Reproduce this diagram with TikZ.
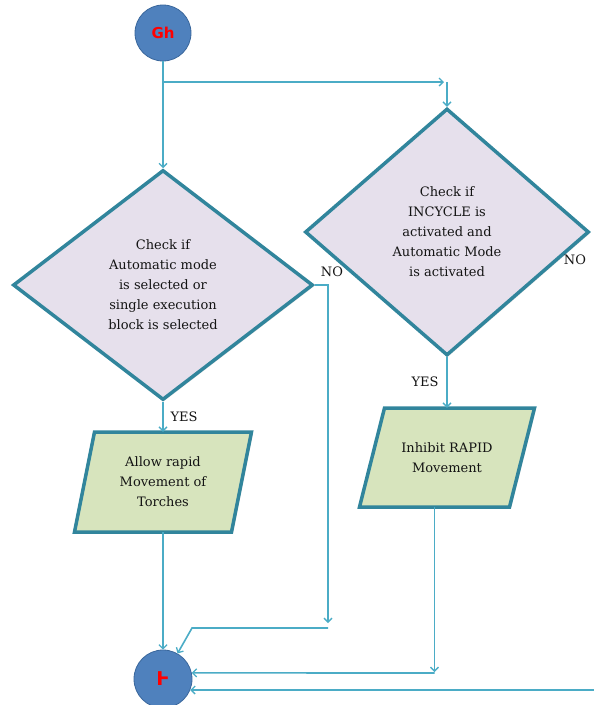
\documentclass[tikz,border=0pt]{standalone}
\usepackage{fontspec}
\setmainfont{DejaVu Serif}
\newfontfamily\glyphfont{DejaVu Sans}
\usetikzlibrary{shapes.geometric,arrows.meta,shadows}

\definecolor{lineblue}{HTML}{4BACC6}
\definecolor{flowedge}{HTML}{31859C}
\definecolor{decfill}{HTML}{E6E0EC}
\definecolor{procfill}{HTML}{D7E4BD}
\definecolor{termblue}{HTML}{4F81BD}
\definecolor{termedge}{HTML}{3A679C}
\definecolor{inktext}{HTML}{141414}

\newcommand{\flowfont}{\fontsize{13}{20}\selectfont}

\begin{document}
\begin{tikzpicture}[x=1pt,y=-1pt,
  conn/.style={draw=lineblue, line width=1.6pt,
    -{Straight Barb[length=4pt,width=8pt,line width=1.3pt]}},
  term/.style={circle, fill=termblue, draw=termedge, line width=0.8pt,
    minimum size=56pt, inner sep=0pt, text=red,
    font=\glyphfont\bfseries\fontsize{15}{15}\selectfont},
  decision/.style={diamond, fill=decfill, draw=flowedge, line width=3.5pt,
    inner sep=0pt, align=center, text=inktext, font=\flowfont,
    drop shadow={opacity=0.25, shadow xshift=1.5pt, shadow yshift=-1.5pt}},
  parashape/.style={fill=procfill, draw=flowedge, line width=3.5pt,
    line join=miter,
    drop shadow={opacity=0.3, shadow xshift=1.5pt, shadow yshift=-1.5pt}},
  proc/.style={rectangle, inner sep=0pt, align=center, text=inktext,
    font=\flowfont},
  lbl/.style={inner sep=0pt, text=inktext, font=\fontsize{13}{14}\selectfont}]

\useasboundingbox (0,0) rectangle (594,705);

% terminals
\node[term] (start) at (163,33) {Gh};
\node[term, minimum size=58pt, font=\glyphfont\bfseries\fontsize{19}{19}\selectfont]
  (e1) at (163,679) {Ⱶ};

% decisions
\node[decision, minimum width=300pt, minimum height=230pt] (d1) at (163,285)
  {Check if\\Automatic mode\\is selected or\\single execution\\block is selected};
\node[decision, minimum width=284pt, minimum height=247pt] (d2) at (447,232)
  {\fontsize{13}{19}\selectfont Check if\\INCYCLE is\\activated and\\Automatic Mode\\is activated};

% processes (slanted boxes)
\coordinate (p1c) at (163,482);
\path[parashape] ([shift={(-68.5,-50)}]p1c) -- ([shift={(88.5,-50)}]p1c)
  -- ([shift={(68.5,50)}]p1c) -- ([shift={(-88.5,50)}]p1c) -- cycle;
\node[proc, minimum width=157pt, minimum height=100pt] (p1) at (p1c)
  {Allow rapid\\Movement of\\Torches};

\coordinate (p2c) at (447,457.5);
\path[parashape] ([shift={(-62.5,-49.5)}]p2c) -- ([shift={(87.5,-49.5)}]p2c)
  -- ([shift={(62.5,49.5)}]p2c) -- ([shift={(-87.5,49.5)}]p2c) -- cycle;
\node[proc, minimum width=150pt, minimum height=99pt] (p2) at (p2c)
  {Inhibit RAPID\\Movement};

% connectors
\coordinate (split) at (163,82);
\draw[conn] (start) -- (d1);
\draw[conn] (split) -- ([xshift=-3pt]split -| d2.north);
\draw[conn] (split -| d2.north) -- (d2.north);

\draw[conn] (d1) -- (p1);
\draw[conn] (d2) -- (p2);
\draw[conn] (p1) -- (e1);

\coordinate (nodrop) at (328,623);
\coordinate (noback) at (328,628);
\coordinate (knee) at (192,628);
\draw[conn] (d1.east) -| (nodrop);
\draw[conn] (noback) -- (knee) -- (e1);

\coordinate (p2out) at ([xshift=-12.5pt]p2.south);
\coordinate (p2end) at (p2out |- 0,672);
\coordinate (p2turn) at (p2out |- 0,673);
\draw[conn] (p2out) -- (p2end);
\draw[conn] (p2turn) -- (e1.12);

\coordinate (farright) at (594,690);
\draw[conn] (farright) -- (e1.-22);

% branch labels
\node[lbl] (yes1) at (184,417) {YES};
\node[lbl] (yes2) at (425,382) {YES};
\node[lbl] (no1) at (332,272) {NO};
\node[lbl] (no2) at (575,260) {NO};
\end{tikzpicture}
\end{document}
